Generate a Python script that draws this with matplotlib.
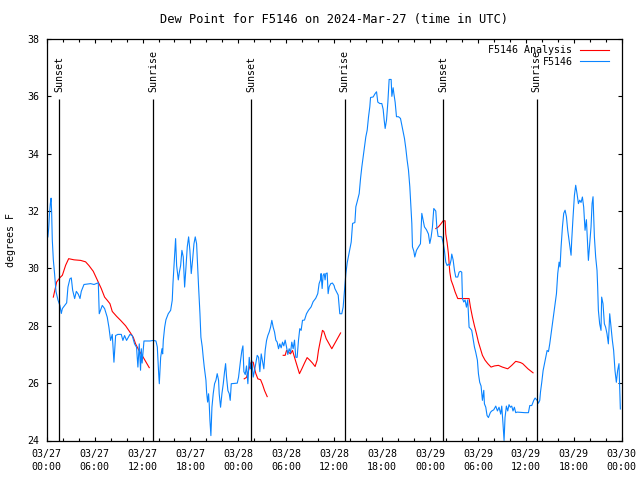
import matplotlib
matplotlib.use("Agg")
import matplotlib.pyplot as plt
import matplotlib.dates as mdates
import pandas as pd
import numpy as np

# ---------------- data (hours since 2024-03-27 00:00 UTC) ----------------
base_time = "2024-03-27 00:00"

obs_hours = [
    0.15, 0.25, 0.35, 0.45, 0.55, 0.62, 0.70, 0.83, 0.99, 1.16, 1.41, 1.66, 1.83, 1.96,
    2.5, 2.66, 2.91, 3.08, 3.25, 3.5, 3.71, 3.96, 4.17, 4.33, 4.67, 5.5, 5.92, 6.46,
    6.58, 6.96, 7.25, 7.58, 7.79, 8.0, 8.21, 8.42, 8.63, 8.92, 9.34, 9.54, 9.75, 10.0,
    10.42, 10.71, 11.0, 11.25, 11.42, 11.59, 11.75, 11.85, 11.95, 12.18, 12.93, 13.35,
    13.68, 13.85, 14.02, 14.1, 14.27, 14.43, 14.52, 14.6, 14.77, 14.93, 15.22, 15.52,
    15.72, 15.81, 15.93, 16.06, 16.14, 16.27, 16.48, 16.6, 16.77, 16.93, 17.1, 17.27,
    17.43, 17.6, 17.77, 17.93, 18.1, 18.27, 18.44, 18.6, 18.77, 19.02, 19.19, 19.31,
    19.48, 19.6, 19.73, 19.94, 20.02, 20.15, 20.27, 20.35, 20.44, 20.56, 20.69, 20.85,
    21.02, 21.19, 21.35, 21.52, 21.6, 21.77, 21.94, 22.11, 22.27, 22.4, 22.52, 22.69,
    22.86, 22.98, 23.11, 23.86, 24.02, 24.27, 24.44, 24.57, 24.69, 24.86, 25.02, 25.19,
    25.36, 25.52, 25.69, 25.86, 26.03, 26.19, 26.36, 26.53, 26.69, 26.86, 27.03, 27.19,
    27.36, 27.53, 27.69, 27.86, 28.03, 28.19, 28.36, 28.53, 28.69, 28.86, 29.03, 29.19,
    29.36, 29.53, 29.69, 29.86, 30.03, 30.19, 30.36, 30.53, 30.69, 30.86, 31.03, 31.19,
    31.36, 31.53, 31.69, 31.86, 32.03, 32.28, 32.53, 32.78, 33.11, 33.36, 33.69, 33.94,
    34.11, 34.28, 34.36, 34.49, 34.61, 34.74, 34.86, 34.95, 35.12, 35.24, 35.37, 35.57,
    35.78, 35.99, 36.08, 36.5, 36.7, 36.95, 37.12, 37.24, 37.46, 37.63, 37.88, 38.13,
    38.3, 38.59, 38.71, 38.88, 39.13, 39.3, 39.46, 39.63, 39.8, 39.96, 40.13, 40.3,
    40.46, 40.55, 40.88, 41.13, 41.3, 41.46, 41.71, 41.96, 42.13, 42.26, 42.38, 42.55,
    42.72, 42.88, 43.13, 43.22, 43.38, 43.47, 43.63, 43.8, 44.05, 44.3, 44.47, 44.63,
    44.8, 44.97, 45.13, 45.3, 45.47, 45.55, 45.63, 45.72, 45.8, 45.97, 46.09, 46.3,
    46.55, 46.8, 46.97, 47.13, 47.3, 47.55, 47.8, 47.97, 48.14, 48.3, 48.47, 48.72,
    48.85, 49.01, 49.47, 49.64, 49.8, 49.97, 50.14, 50.3, 50.47, 50.64, 50.72, 50.89,
    51.06, 51.22, 51.47, 51.64, 51.81, 51.97, 52.06, 52.22, 52.39, 52.56, 52.72, 52.89,
    53.06, 53.22, 53.39, 53.56, 53.72, 53.93, 54.06, 54.22, 54.39, 54.56, 54.73, 54.81,
    54.98, 55.14, 55.31, 55.56, 55.73, 55.98, 56.23, 56.44, 56.64, 56.85, 56.98, 57.14,
    57.27, 57.39, 57.56, 57.73, 57.89, 58.06, 58.23, 58.39, 58.56, 58.73, 58.9, 59.9,
    60.32, 60.49, 60.74, 60.99, 61.16, 61.41, 61.57, 61.74, 61.83, 61.99, 62.16, 62.33,
    62.49, 62.66, 62.83, 62.99, 63.16, 63.33, 63.49, 63.66, 63.83, 63.99, 64.16, 64.28,
    64.41, 64.58, 64.74, 64.91, 65.08, 65.24, 65.41, 65.58, 65.66, 65.74, 65.91, 66.08,
    66.24, 66.41, 66.58, 66.74, 66.91, 67.08, 67.24, 67.41, 67.58, 67.74, 67.83, 67.99,
    68.16, 68.29, 68.41, 68.58, 68.74, 68.91, 68.99, 69.08, 69.24, 69.41, 69.49, 69.66,
    69.83, 69.99, 70.16, 70.33, 70.5, 70.66, 70.83, 70.99, 71.16, 71.33, 71.49, 71.66,
    71.74, 71.83,
]
obs_dewpoint = [
    31.1, 31.4, 31.9, 32.25, 32.45, 31.95, 31.0, 30.3, 29.8, 29.2, 28.9, 28.7, 28.43, 28.6,
    28.8, 29.35, 29.64, 29.67, 29.24, 28.95, 29.2, 29.1, 28.95, 29.2, 29.44, 29.47, 29.44, 29.5,
    28.42, 28.71, 28.6, 28.3, 27.95, 27.49, 27.7, 26.73, 27.66, 27.7, 27.7, 27.49, 27.66, 27.49,
    27.7, 27.66, 27.37, 27.25, 26.56, 27.37, 26.45, 27.2, 26.7, 27.47, 27.47, 27.49,
    27.47, 27.26, 26.33, 25.98, 26.9, 27.2, 27.02, 27.49, 27.95, 28.21, 28.42, 28.54,
    28.89, 29.47, 30.05, 30.69, 31.04, 30.1, 29.6, 29.85, 30.1, 30.63, 30.4, 29.35,
    30.0, 30.75, 31.1, 30.63, 29.82, 30.3, 30.86, 31.1, 30.86, 29.35, 28.42, 27.6,
    27.26, 26.9, 26.56, 26.1, 25.69, 25.34, 25.63, 25.28, 24.7, 24.17, 25.16, 25.63,
    25.98, 26.1, 26.33, 26.1, 25.63, 25.16, 25.63, 25.98, 26.4, 26.68, 26.21, 25.74,
    25.63, 25.4, 25.98, 26.0, 26.2, 26.79, 27.14, 27.3, 26.4, 26.3, 26.6, 25.98,
    26.9, 26.5, 26.78, 26.21, 26.45, 26.7, 26.97, 26.9, 26.4, 27.02, 26.75, 26.5,
    27.15, 27.49, 27.66, 27.78, 27.95, 28.19, 27.95, 27.78, 27.5, 27.43, 27.2, 27.37,
    27.23, 27.43, 27.3, 27.5, 27.26, 27.0, 27.2, 27.06, 27.43, 27.2, 27.5, 26.9,
    26.9, 27.5, 27.9, 27.84, 28.19, 28.2, 28.42, 28.54, 28.66, 28.84, 28.96, 29.12,
    29.47, 29.6, 29.82, 29.3, 29.76, 29.82, 29.6, 29.82, 29.84, 29.12, 29.36, 29.47,
    29.49, 29.4, 29.3, 29.07, 28.42, 28.42, 28.65, 29.07, 29.82, 30.2, 30.57, 30.92,
    31.57, 31.6, 32.15, 32.33, 32.61, 33.14, 33.54, 33.89, 34.24, 34.59, 34.82, 35.29,
    35.64, 35.96, 35.98, 36.1, 36.16, 35.8, 35.75, 35.75, 35.55, 35.17, 34.88, 35.17,
    35.8, 36.59, 36.59, 36.0, 36.3, 36.1, 35.8, 35.29, 35.29, 35.23, 34.99, 34.76,
    34.53, 34.18, 33.78, 33.43, 32.84, 32.44, 32.03, 31.57, 30.75, 30.6, 30.4, 30.63,
    30.75, 30.86, 31.92, 31.7, 31.45, 31.35, 31.2, 30.87, 31.1, 31.44, 32.09, 32.0,
    31.44, 31.12, 31.1, 30.9, 30.63, 30.22, 30.1, 30.15, 30.1, 30.3, 30.5, 30.3,
    29.93, 29.7, 29.7, 29.87, 29.9, 29.87, 28.95, 28.83, 28.9, 28.65, 28.9, 27.95,
    27.9, 27.84, 27.55, 27.26, 27.08, 26.8, 26.33, 26.03, 25.9, 25.4, 25.75, 25.28,
    25.16, 24.87, 24.8, 24.98, 25.03, 25.07, 25.2, 25.03, 25.16, 24.92, 25.2, 24.57,
    24.0, 24.8, 25.2, 25.03, 25.25, 25.16, 25.2, 25.03, 25.16, 24.97, 24.99, 24.97,
    24.97, 25.22, 25.22, 25.4, 25.48, 25.4, 25.3, 25.4, 25.69, 26.03, 26.44, 26.68,
    26.9, 27.14, 27.1, 27.37, 27.72, 28.07, 28.42, 28.77, 29.12, 29.82, 30.22, 30.05,
    30.75, 31.45, 31.92, 32.03, 31.8, 31.33, 30.98, 30.63, 30.46, 30.98, 31.8, 32.55,
    32.9, 32.6, 32.26, 32.38, 32.3, 32.49, 32.14, 31.33, 31.7, 30.81, 30.28, 30.86,
    31.45, 32.26, 32.5, 31.1, 30.4, 29.93, 29.35, 28.54, 28.07, 27.84, 29.0, 28.77,
    28.07, 27.95, 27.72, 27.37, 28.42, 27.95, 27.49, 27.14, 26.44, 26.03, 26.44, 26.68,
    25.95, 25.1,
]

# analysis series, in separate runs (gaps between them)
ana_hours_1 = [0.83, 1.25, 1.66, 1.96, 2.37, 2.75, 3.42, 4.25, 4.87, 5.29, 5.83, 6.33,
               6.83, 7.25, 7.58, 7.92, 8.21, 8.75, 9.25, 9.88, 10.42, 10.84, 11.13,
               11.55, 12.09, 12.84]
ana_dew_1 = [29.0, 29.53, 29.68, 29.76, 30.11, 30.34, 30.3, 30.28, 30.23, 30.1, 29.9,
             29.6, 29.3, 29.0, 28.89, 28.77, 28.5, 28.33, 28.19, 28.0, 27.78, 27.6,
             27.37, 27.14, 26.9, 26.54]
ana_hours_2 = [24.73, 25.02, 25.27, 25.44, 25.61, 25.86, 26.03, 26.19, 26.44, 26.78,
               27.03, 27.28, 27.61]
ana_dew_2 = [26.15, 26.2, 26.44, 26.6, 26.73, 26.73, 26.5, 26.33, 26.15, 26.12, 25.95,
             25.74, 25.53]
ana_hours_3 = [29.61, 29.86, 30.03, 30.28, 30.53, 30.78, 31.03, 31.28, 31.53, 31.65,
               31.95, 32.28, 32.61, 32.95, 33.28, 33.61, 33.86, 34.03, 34.28, 34.53,
               34.7, 35.0, 35.4, 35.7, 36.2, 36.8]
ana_dew_3 = [26.97, 26.97, 27.14, 27.08, 27.02, 27.14, 26.9, 26.67, 26.44, 26.33, 26.5,
             26.7, 26.89, 26.8, 26.7, 26.58, 26.8, 27.14, 27.5, 27.84, 27.8, 27.55,
             27.35, 27.2, 27.45, 27.75]
ana_hours_4 = [48.72, 49.05, 49.35, 49.64, 49.89, 49.97, 50.14, 50.3, 50.47, 50.64,
               50.89, 51.14, 51.47, 52.14, 52.89, 53.06, 53.31, 53.56, 53.81, 54.06,
               54.31, 54.56, 54.89, 55.23, 55.64, 56.06, 56.56, 57.06, 57.73, 58.23,
               58.73, 59.31, 59.6, 60.26, 60.9]
ana_dew_4 = [31.39, 31.45, 31.55, 31.66, 31.66, 31.2, 30.9, 30.52, 29.88, 29.59, 29.4,
             29.18, 28.95, 28.95, 28.95, 28.65, 28.3, 28.0, 27.73, 27.43, 27.2, 26.97,
             26.8, 26.68, 26.56, 26.6, 26.62, 26.56, 26.5, 26.62, 26.76, 26.72, 26.68,
             26.5, 26.36]

sunset_times = ["2024-03-27 01:35", "2024-03-28 01:36", "2024-03-29 01:39"]
sunrise_times = ["2024-03-27 13:20", "2024-03-28 13:18", "2024-03-29 13:20"]

title = "Dew Point for F5146 on 2024-Mar-27 (time in UTC)"
ylabel = "degrees F"
label_analysis = "F5146 Analysis"
label_obs = "F5146"

# ---------------- plotting ----------------
plt.rcParams["font.family"] = ["DejaVu Sans Mono"]
plt.rcParams["font.size"] = 7.2

t0 = pd.Timestamp(base_time)
def to_time(hours):
    return t0 + pd.to_timedelta(np.asarray(hours, dtype=float), unit="h")

fig = plt.figure(figsize=(6.4, 4.8), dpi=100)
ax = fig.add_axes([46.7 / 640, (480 - 440.5) / 480, 575 / 640, 401.5 / 480])

red = "#ff0000"
blue = "#0a84ff"
lw = 0.8

first = True
for hh, vv in [(ana_hours_1, ana_dew_1), (ana_hours_2, ana_dew_2),
               (ana_hours_3, ana_dew_3), (ana_hours_4, ana_dew_4)]:
    ax.plot(to_time(hh), vv, color=red, lw=lw,
            label=label_analysis if first else None)
    first = False
ax.plot(to_time(obs_hours), obs_dewpoint, color=blue, lw=lw, label=label_obs)

ymin, ymax = 24, 38
line_top = 35.9
label_y = 36.15
for name, times in [("Sunset", sunset_times), ("Sunrise", sunrise_times)]:
    for ts in times:
        t = pd.Timestamp(ts)
        ax.vlines(t, ymin, line_top, color="black", lw=0.9)
        ax.text(t, label_y, name, rotation=90, ha="center", va="bottom")

ax.set_xlim(pd.Timestamp("2024-03-27 00:00"), pd.Timestamp("2024-03-30 00:00"))
ax.set_ylim(ymin, ymax)
ax.set_yticks(np.arange(24, 39, 2))

ax.xaxis.set_major_locator(mdates.HourLocator(byhour=[0, 6, 12, 18]))
ax.xaxis.set_minor_locator(mdates.HourLocator(byhour=range(0, 24, 2)))
ax.xaxis.set_major_formatter(mdates.DateFormatter("%m/%d\n%H:%M"))
for lab in ax.get_xticklabels():
    lab.set_linespacing(1.4)

ax.tick_params(which="both", direction="in", top=True, right=True, width=0.8)
ax.tick_params(which="major", length=3.0)
ax.tick_params(which="minor", length=2.0)
ax.tick_params(axis="x", which="major", pad=6.0)
ax.tick_params(axis="y", which="major", pad=5.2)
for s in ax.spines.values():
    s.set_linewidth(0.9)

ax.set_title(title, pad=11.5)
ax.set_ylabel(ylabel)
ax.yaxis.set_label_coords(-(46.7 - 16) / 575, 0.5)

leg = ax.legend(loc="upper right", frameon=False, markerfirst=False,
                bbox_to_anchor=(1 - 12.3 / 575, 1 - 6.0 / 401),
                borderaxespad=0, borderpad=0, handlelength=2.9,
                handletextpad=0.8, labelspacing=0.17)

fig.savefig("out.png", dpi=100)
